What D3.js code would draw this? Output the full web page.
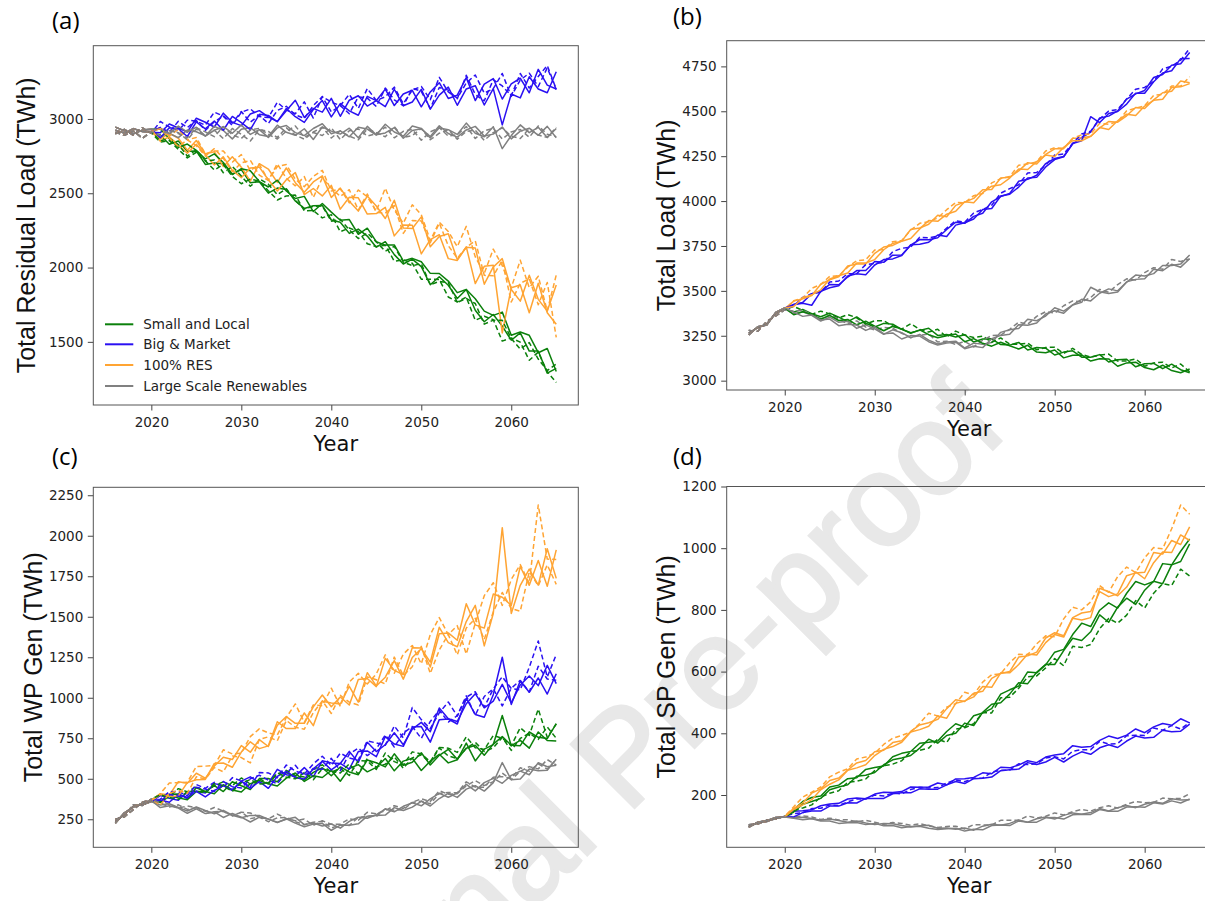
<!DOCTYPE html>
<html>
<head>
<meta charset="utf-8">
<script src="https://cdn.jsdelivr.net/npm/d3@7"></script>
<style>
  body { margin: 0; background: #fff; }
  svg { display: block; }
</style>
</head>
<body>
<svg id="chart" width="1205" height="901"></svg>
<script>
// simulation years
const years = [2016,2017,2018,2019,2020,2021,2022,2023,2024,2025,2026,2027,2028,2029,2030,
  2031,2032,2033,2034,2035,2036,2037,2038,2039,2040,2041,2042,2043,2044,2045,
  2046,2047,2048,2049,2050,2051,2052,2053,2054,2055,2056,2057,2058,2059,2060,
  2061,2062,2063,2064,2065];
const xTicks = [2020, 2030, 2040, 2050, 2060];

const scenarios = ['Small and Local', 'Big & Market', '100% RES', 'Large Scale Renewables'];

// (a) total residual load, TWh - one array per run (even = solid, odd = dashed)
const resSmall = [
  [2925,2905,2935,2915,2910, 2892,2830,2852,2782,2784, 2694,2704,2698,2629,2660, 2571,2578,2501,2535,2526, 2448,2398,2416,2418,2320, 2305,2230,2259,2212,2137, 2174,2087,2024,2057,2006, 1884,1938,1881,1792,1852, 1713,1635,1684,1606,1511, 1560,1438,1438,1289,1322],
  [2900,2930,2890,2940,2905, 2844,2854,2796,2738,2776, 2718,2656,2694,2613,2564, 2595,2582,2517,2455,2482, 2488,2382,2384,2334,2356, 2241,2266,2243,2160,2141, 2150,2043,2052,2029,1922, 1921,1920,1802,1768,1801, 1645,1672,1649,1505,1526, 1498,1376,1431,1299,1227],
  [2945,2920,2900,2925,2930, 2933,2867,2809,2831,2789, 2731,2765,2707,2626,2665, 2652,2579,2542,2588,2515, 2465,2479,2377,2431,2373, 2318,2323,2224,2265,2174, 2151,2152,2045,2062,2039, 1961,1960,1909,1831,1852, 1790,1707,1678,1700,1544, 1566,1544,1427,1455,1300],
  [2910,2890,2920,2870,2915, 2852,2870,2828,2750,2792, 2718,2724,2638,2681,2616, 2547,2598,2561,2491,2530, 2452,2394,2412,2414,2312, 2325,2254,2195,2232,2173, 2110,2143,2036,2013,2026, 1885,1906,1899,1765,1792, 1758,1619,1646,1645,1523, 1451,1495,1384,1307,1351]
];
const resBig = [
  [2925,2905,2935,2915,2910, 2908,2966,2939,2912,3005, 2978,2946,3039,2977,2955, 3033,3056,3014,2982,3055, 3126,3010,3071,3046,3139, 3018,3126,3156,3087,3123, 3201,3090,3168,3193,3082, 3182,3244,3138,3160,3278, 3124,3234,3272,3134,3236, 3274,3176,3334,3228,3202],
  [2900,2930,2890,2940,2905, 2983,2946,2919,2992,2985, 2958,3046,3019,2957,3045, 3068,3016,3009,3112,3060, 3035,3115,3006,3151,3113, 3090,3166,3071,3205,3124, 3149,3214,3103,3194,3219, 3130,3280,3182,3140,3242, 3296,3174,3204,3306,3152, 3262,3308,3218,3344,3198],
  [2945,2920,2900,2925,2930, 2873,2941,2934,2882,2980, 2933,2986,2924,3017,2975, 2928,3031,3024,2982,3070, 3015,2977,3064,3124,3014, 3103,3054,3025,3152,3123, 3083,3200,3089,3114,3199, 3066,3160,3214,3092,3202, 3224,3094,3204,2960,3168, 3142,3284,3202,3176,3318],
  [2910,2890,2920,2870,2915, 2943,2911,2984,2942,2990, 2923,2981,3019,2972,3050, 2978,3026,2969,3057,3085, 3028,3004,3090,3150,3047, 3090,3035,3149,3140,3084, 3208,3129,3089,3206,3186, 3070,3212,3194,3136,3294, 3164,3122,3264,3222,3156, 3306,3208,3286,3360,3200]
];
const resRes = [
  [2925,2905,2935,2915,2910, 2865,2905,2870,2790,2855, 2765,2780,2680,2745,2675, 2581,2699,2663,2573,2670, 2571,2507,2576,2617,2471, 2535,2447,2380,2481,2414, 2330,2453,2266,2263,2341, 2140,2209,2228,2054,2136, 2132,1888,2004,2060,1852, 1774,1948,1786,1708,1882],
  [2900,2930,2890,2940,2905, 2945,2885,2930,2860,2875, 2765,2785,2785,2710,2760, 2653,2694,2588,2680,2693, 2594,2544,2613,2654,2515, 2530,2435,2522,2476,2381, 2534,2387,2299,2422,2356, 2182,2305,2243,2141,2277, 2072,1960,2124,2012,1864, 2050,1864,1942,1708,1950],
  [2945,2920,2900,2925,2930, 2850,2880,2825,2770,2830, 2760,2690,2745,2655,2605, 2670,2676,2591,2515,2591, 2639,2491,2532,2482,2553, 2393,2473,2469,2360,2363, 2405,2213,2287,2284,2092, 2188,2221,2060,2048,2139, 1892,2008,2016,1560,1864, 1882,1696,1894,1696,1618],
  [2910,2890,2920,2870,2915, 2935,2870,2815,2860,2820, 2750,2800,2735,2645,2705, 2721,2622,2586,2699,2600, 2550,2612,2471,2603,2534, 2479,2524,2387,2495,2372, 2366,2417,2230,2317,2314, 2167,2299,2147,2063,2136, 2180,1948,1944,2048,1768, 1894,1924,1750,1900,1530]
];
const resLarge = [
  [2925,2905,2935,2915,2910, 2938,2902,2874,2926,2914, 2886,2950,2922,2866,2930, 2942,2894,2882,2958,2910, 2890,2934,2862,2946,2918, 2898,2938,2874,2950,2894, 2906,2942,2870,2922,2934, 2882,2954,2902,2878,2926, 2950,2886,2898,2946,2866, 2918,2938,2890,2950,2874],
  [2900,2930,2890,2940,2905, 2872,2920,2908,2860,2932, 2888,2924,2868,2936,2896, 2852,2928,2916,2876,2940, 2892,2864,2912,2944,2872, 2920,2884,2860,2932,2908, 2880,2948,2876,2888,2936, 2860,2904,2928,2864,2916, 2924,2856,2908,2940,2884, 2868,2936,2892,2876,2944],
  [2945,2920,2900,2925,2930, 2932,2900,2952,2912,2944, 2884,2924,2948,2904,2960, 2896,2928,2876,2940,2956, 2908,2888,2936,2968,2900, 2920,2880,2944,2932,2892, 2964,2912,2884,2952,2936, 2872,2940,2928,2896,2972, 2904,2880,2948,2800,2888, 2960,2908,2944,2876,2936],
  [2910,2890,2920,2870,2915, 2889,2929,2901,2873,2941, 2913,2881,2949,2893,2869, 2925,2937,2897,2865,2917, 2953,2877,2909,2889,2941, 2861,2921,2933,2885,2901, 2945,2873,2917,2929,2857, 2913,2941,2885,2893,2949, 2869,2921,2937,2865,2913, 2929,2877,2953,2897,2881]
];

// (b) total load, TWh
const loadSmall = [
  [3265,3295,3315,3375,3400, 3383,3396,3373,3356,3376, 3354,3329,3355,3320,3299, 3319,3314,3286,3267,3280, 3292,3252,3257,3243,3256, 3215,3232,3233,3201,3198, 3213,3171,3185,3181,3143, 3159,3166,3131,3130,3145, 3104,3117,3119,3077,3094, 3096,3067,3092,3061,3044],
  [3280,3275,3330,3360,3395, 3413,3391,3369,3387,3372, 3349,3368,3350,3315,3334, 3334,3303,3287,3317,3285, 3271,3286,3243,3276,3254, 3240,3248,3214,3238,3203, 3203,3209,3172,3185,3186, 3152,3180,3146,3131,3142, 3148,3109,3110,3121,3080, 3099,3103,3071,3093,3049],
  [3255,3300,3310,3380,3405, 3367,3384,3369,3342,3364, 3335,3341,3311,3331,3303, 3278,3303,3287,3264,3283, 3256,3239,3250,3260,3217, 3234,3208,3192,3214,3194, 3176,3197,3159,3155,3171, 3127,3142,3143,3109,3122, 3121,3080,3099,3103,3073, 3061,3086,3056,3044,3065]
];
const loadBig = [
  [3265,3295,3315,3375,3400, 3425,3436,3484,3496,3536, 3534,3577,3613,3613,3663, 3659,3699,3700,3754,3786, 3785,3796,3842,3882,3876, 3915,3932,3996,4025,4042, 4110,4121,4144,4209,4237, 4248,4319,4354,4384,4463, 4473,4502,4568,4597,4616, 4688,4705,4756,4765,4827],
  [3280,3275,3330,3360,3395, 3417,3464,3484,3492,3549, 3555,3596,3596,3646,3653, 3658,3718,3737,3744,3798, 3796,3804,3850,3890,3882, 3934,3953,3977,4044,4069, 4091,4157,4159,4200,4256, 4262,4322,4373,4389,4457, 4501,4510,4569,4623,4633, 4666,4736,4751,4784,4850],
  [3255,3300,3310,3380,3405, 3423,3431,3420,3497,3517, 3529,3583,3595,3590,3644, 3674,3678,3697,3757,3760, 3771,3811,3803,3866,3879, 3900,3953,3959,4028,4038, 4078,4129,4132,4190,4231, 4247,4320,4336,4470,4437, 4488,4499,4540,4601,4600, 4664,4713,4726,4793,4794]
];
const loadRes = [
  [3265,3295,3315,3375,3400, 3443,3456,3474,3537,3562, 3579,3638,3650,3650,3709, 3744,3753,3777,3842,3850, 3871,3921,3913,3976,3994, 4015,4063,4064,4128,4133, 4168,4214,4207,4260,4291, 4292,4350,4351,4361,4407, 4443,4439,4475,4521,4515, 4564,4603,4611,4668,4659],
  [3280,3275,3330,3360,3395, 3445,3461,3514,3536,3581, 3584,3632,3668,3673,3728, 3729,3774,3780,3839,3876, 3885,3906,3952,3992,3991, 4030,4042,4101,4125,4137, 4200,4206,4219,4279,4297, 4293,4349,4369,4374,4433, 4428,4442,4503,4517,4531, 4588,4595,4641,4640,4692],
  [3255,3300,3310,3380,3405, 3413,3461,3478,3506,3566, 3584,3599,3655,3655,3674, 3729,3764,3776,3792,3845, 3892,3887,3927,3943,3996, 3990,4047,4083,4091,4128, 4178,4176,4220,4256,4248, 4299,4336,4336,4360,4410, 4399,4447,4484,4477,4529, 4561,4567,4632,4636,4654]
];
const loadLarge = [
  [3265,3295,3315,3375,3400, 3372,3384,3364,3332,3354, 3325,3331,3291,3311,3288, 3258,3283,3267,3239,3258, 3226,3204,3215,3220,3182, 3209,3203,3212,3269,3284, 3291,3342,3334,3360,3406, 3387,3422,3453,3444,3487, 3511,3500,3549,3588,3583, 3596,3641,3641,3649,3700],
  [3280,3275,3330,3360,3395, 3386,3394,3366,3344,3364, 3342,3317,3333,3298,3282, 3297,3292,3264,3240,3253, 3260,3215,3220,3201,3219, 3188,3225,3251,3254,3286, 3326,3314,3358,3384,3376, 3417,3444,3439,3463,3508, 3492,3535,3567,3560,3602, 3629,3620,3675,3664,3677],
  [3255,3300,3310,3380,3405, 3382,3358,3366,3338,3343, 3306,3314,3310,3280,3300, 3261,3266,3232,3251,3248, 3217,3198,3209,3214,3178, 3192,3184,3233,3252,3259, 3312,3308,3321,3371,3389, 3375,3421,3436,3520,3495, 3485,3494,3550,3564,3568, 3620,3612,3648,3632,3679]
];

// (c) total wind power generation, TWh
const wpSmall = [
  [235,280,330,340,360, 359,405,406,380,444, 421,458,421,482,457, 434,501,502,482,540, 509,493,539,568,519, 573,542,525,616,599, 573,654,583,602,661, 585,645,682,620,688, 707,645,714,760,707, 704,790,756,748,840],
  [250,265,310,355,370, 404,390,439,419,453, 418,458,481,458,505, 467,501,472,530,552, 521,511,557,586,540, 565,520,612,609,558, 659,606,585,666,653, 606,693,689,663,759, 692,680,767,750,704, 815,767,930,756,838],
  [225,290,325,350,365, 353,393,382,371,422, 421,407,463,431,418, 470,489,469,455,504, 536,484,518,508,552, 485,563,587,543,570, 625,549,609,627,551, 609,651,598,617,720, 610,683,711,890,704, 737,689,789,736,733],
  [245,270,340,335,375, 401,384,373,422,423, 412,470,454,422,475, 494,468,469,536,510, 500,538,494,562,546, 536,592,530,625,572, 590,636,565,629,647, 599,690,641,624,688, 725,668,691,755,675, 749,782,743,820,750]
];
const wpBig = [
  [235,280,330,340,360, 396,379,368,417,423, 412,470,459,427,485, 512,474,472,558,525, 515,569,512,611,598, 594,669,601,725,668, 710,784,710,807,848, 791,937,871,854,963, 1025,938,979,1083,968, 1079,1134,1075,1200,1087],
  [250,265,310,355,370, 374,420,421,395,464, 441,478,446,507,487, 452,538,536,506,585, 547,529,592,639,582, 658,628,615,734,721, 707,826,752,940,865, 810,907,974,887,1003, 1037,943,1054,1130,1057, 1049,1188,1350,1128,1267],
  [225,290,325,350,365, 369,355,404,384,423, 388,428,456,433,485, 441,483,441,515,546, 508,498,561,608,555, 595,560,668,672,636, 760,714,700,819,822, 726,865,869,838,996, 897,880,1019,1250,959, 1105,1034,1122,1023,1148],
  [245,270,340,335,375, 363,403,392,381,447, 436,422,483,451,443, 500,522,492,470,537, 583,517,564,559,626, 550,652,689,643,685, 770,696,782,823,749, 854,923,850,889,1012, 892,1008,1056,950,1059, 1107,1036,1194,1116,1108]
];
const wpRes = [
  [235,280,330,340,360, 407,400,482,472,534, 504,579,633,619,705, 664,742,699,830,884, 842,842,944,1017,945, 1005,955,1113,1119,1069, 1243,1169,1143,1309,1307, 1190,1395,1400,1355,1580, 1450,1430,1640,1620,1570, 1810,1694,1847,1688,1913],
  [250,265,310,355,370, 409,474,476,478,576, 578,581,679,653,659, 760,808,783,770,878, 962,848,956,951,1059, 947,1097,1151,1085,1147, 1265,1151,1269,1323,1209, 1390,1495,1390,1445,1270, 1460,1630,1710,1570,1730, 1822,1706,2190,1856,1853],
  [225,290,325,350,365, 403,392,394,476,494, 496,595,597,571,665, 728,686,703,852,810, 810,906,828,979,967, 961,1071,973,1155,1073, 1127,1229,1115,1249,1303, 1220,1435,1340,1315,1470, 1570,1320,1520,2050,1520, 1694,1794,1695,1920,1737],
  [245,270,340,335,375, 337,410,428,410,512, 498,569,543,641,631, 598,742,759,734,860, 818,806,908,981,903, 1015,973,955,1129,1111, 1085,1251,1137,1191,1317, 1150,1295,1390,1265,1430, 1490,1360,1530,1650,1550, 1534,1778,1691,1820,1700]
];
const wpLarge = [
  [235,280,330,340,360, 338,346,323,301,326, 304,284,305,275,259, 274,274,251,232,250, 262,217,227,208,221, 195,237,263,256,278, 313,296,330,351,333, 376,410,386,412,466, 425,476,502,472,521, 547,525,599,574,583],
  [250,265,310,355,370, 368,341,319,332,322, 299,323,300,270,294, 289,263,252,282,255, 241,251,213,241,219, 220,253,244,293,283, 303,334,317,355,376, 360,426,404,408,456, 488,458,482,535,494, 546,575,561,618,585],
  [225,290,325,350,365, 322,334,319,287,314, 285,296,261,286,263, 233,263,252,229,253, 226,204,220,225,182, 214,213,222,269,274, 276,322,304,325,361, 332,378,410,385,436, 457,424,476,600,494, 498,560,549,553,621],
  [245,270,340,335,375, 350,326,339,311,321, 284,297,298,273,293, 254,264,235,259,261, 235,216,232,237,196, 215,212,261,270,267, 315,306,309,354,362, 346,409,416,413,481, 449,447,510,513,503, 568,547,592,559,621]
];

// (d) total solar power generation, TWh
const spSmall = [
  [98,110,114,125,130, 152,179,192,197,226, 232,253,256,283,289, 294,324,335,341,368, 371,375,406,431,420, 457,466,480,527,541, 553,599,596,622,663, 672,720,757,746,799, 823,806,854,892,881, 892,950,946,957,1014],
  [104,106,118,122,131, 149,158,168,193,206, 214,241,245,252,279, 295,300,311,341,345, 352,381,370,414,418, 431,467,466,515,517, 546,583,586,612,642, 619,682,678,688,739, 772,757,783,830,806, 854,885,879,932,910],
  [95,112,117,127,129, 145,170,179,189,217, 226,233,261,264,273, 298,314,320,328,352, 381,368,393,400,433, 425,468,494,499,527, 564,561,598,624,623, 668,708,701,729,784, 760,809,838,818,864, 893,885,946,990,1030]
];
const spBig = [
  [98,110,114,125,130, 147,149,152,165,171, 173,187,190,188,203, 209,208,211,226,225, 226,239,233,252,253, 257,272,269,290,288, 297,311,305,323,330, 334,360,355,357,377, 391,383,394,414,402, 421,432,426,447,434],
  [104,106,118,122,131, 140,142,156,157,168, 166,178,187,187,200, 197,206,204,218,225, 223,224,239,249,243, 254,255,274,280,281, 301,299,301,320,324, 317,342,347,347,374, 365,367,392,394,393, 417,410,425,414,435],
  [95,112,117,127,129, 129,143,148,148,164, 164,175,174,189,189, 189,204,207,207,220, 219,219,233,244,237, 253,254,258,279,282, 284,305,299,307,322, 307,326,340,332,353, 363,354,375,391,385, 387,410,405,407,430]
];
const spRes = [
  [98,110,114,125,130, 157,174,206,220,247, 255,281,304,312,340, 345,370,376,406,427, 434,445,480,509,503, 530,536,578,594,600, 647,651,663,709,726, 716,775,790,795,859, 843,852,911,920,922, 986,981,1025,1012,1069],
  [104,106,118,122,131, 162,193,209,226,259, 274,285,317,323,335, 364,384,393,404,432, 465,456,485,496,533, 525,566,590,593,629, 656,655,690,716,713, 771,809,800,826,879, 857,908,939,921,969, 1002,998,1063,1140,1110],
  [95,112,117,127,129, 153,168,185,217,235, 249,280,288,298,328, 348,357,371,404,412, 423,456,449,497,505, 518,552,549,596,596, 623,657,654,694,720, 712,773,767,775,870, 859,846,874,923,901, 953,988,986,1043,1025]
];
const spLarge = [
  [98,110,114,125,130, 126,128,124,118,122, 117,112,116,109,104, 108,107,101,96,100, 102,92,93,89,93, 86,99,105,102,108, 119,112,123,129,122, 134,142,138,143,156, 148,159,166,159,170, 177,173,188,184,185],
  [104,106,118,122,131, 129,132,129,121,125, 119,120,113,118,112, 105,111,108,102,107, 100,95,98,99,90, 104,103,103,118,118, 118,132,125,131,142, 135,146,153,148,159, 165,158,170,179,175, 176,190,188,189,204],
  [95,112,117,127,129, 125,120,123,116,116, 108,110,111,104,108, 100,101,94,98,99, 92,88,91,92,83, 89,87,101,103,101, 116,112,112,126,127, 122,136,138,137,153, 147,147,161,162,160, 175,171,181,174,187]
];

const scenarioColors = ['#0b800b', '#2a10f2', '#ffa433', '#808080'];

const panels = [
  {tag: '(a)', tagX: 52, tagY: 29, left: 93.3, right: 578.3, top: 45.7, bottom: 405,
   yDomain: [1075, 3493], yTicks: [1500, 2000, 2500, 3000], yLabel: 'Total Residual Load (TWh)', labelX: 35,
   series: [resSmall, resBig, resRes, resLarge], legend: true},
  {tag: '(b)', tagX: 673, tagY: 25, left: 726.7, right: 1211.7, top: 40.7, bottom: 390,
   yDomain: [2948, 4893], yTicks: [3000, 3250, 3500, 3750, 4000, 4250, 4500, 4750], yLabel: 'Total Load (TWh)', labelX: 675,
   series: [loadSmall, loadBig, loadRes, loadLarge]},
  {tag: '(c)', tagX: 52, tagY: 465, left: 93.3, right: 578.3, top: 487.3, bottom: 847.3,
   yDomain: [77, 2299], yTicks: [250, 500, 750, 1000, 1250, 1500, 1750, 2000, 2250], yLabel: 'Total WP Gen (TWh)', labelX: 41.5,
   series: [wpSmall, wpBig, wpRes, wpLarge]},
  {tag: '(d)', tagX: 673, tagY: 465, left: 726.7, right: 1211.7, top: 486.5, bottom: 847.3,
   yDomain: [30.5, 1200], yTicks: [200, 400, 600, 800, 1000, 1200], yLabel: 'Total SP Gen (TWh)', labelX: 675,
   series: [spSmall, spBig, spRes, spLarge]}
];

const svg = d3.select('#chart');

// journal watermark, behind everything
svg.append('text')
  .attr('transform', 'translate(300,1142) rotate(-45)')
  .attr('font-family', 'Liberation Sans, Arial, sans-serif')
  .attr('font-size', 130)
  .attr('fill', '#e8e8e8')
  .attr('stroke', '#e8e8e8')
  .attr('stroke-width', 3)
  .text('Journal Pre-proof');

panels.forEach(p => {
  const x = d3.scaleLinear().domain([2013.55, 2067.45]).range([p.left, p.right]);
  const y = d3.scaleLinear().domain(p.yDomain).range([p.bottom, p.top]);
  const line = d3.line()
    .x((d, i) => x(years[i]))
    .y(d => y(d));

  const g = svg.append('g');
  const nRuns = p.series[0].length;
  // one run at a time so the scenarios interleave like the original plot
  for (let r = 0; r < nRuns; r++) {
    p.series.forEach((runs, s) => {
      g.append('path')
        .attr('d', line(runs[r]))
        .attr('fill', 'none')
        .attr('stroke', scenarioColors[s])
        .attr('stroke-width', 1.5)
        .attr('stroke-linejoin', 'round')
        .attr('stroke-dasharray', r % 2 ? '5,3' : null);
    });
  }

  const gx = svg.append('g')
    .attr('transform', 'translate(0,' + p.bottom + ')')
    .call(d3.axisBottom(x).tickValues(xTicks).tickFormat(d3.format('d')).tickSize(5.5).tickPadding(6.5));
  const gy = svg.append('g')
    .attr('transform', 'translate(' + p.left + ',0)')
    .call(d3.axisLeft(y).tickValues(p.yTicks).tickFormat(d3.format('d')).tickSize(5.5).tickPadding(4.5));
  [gx, gy].forEach(ax => {
    ax.select('.domain').remove();
    ax.attr('font-family', 'DejaVu Sans, sans-serif').attr('font-size', 13.5);
    ax.selectAll('line').attr('stroke', '#444');
    ax.selectAll('text').attr('fill', '#222');
  });

  svg.append('rect')
    .attr('x', p.left).attr('y', p.top)
    .attr('width', p.right - p.left).attr('height', p.bottom - p.top)
    .attr('fill', 'none').attr('stroke', '#555').attr('stroke-width', 1);

  svg.append('text')
    .attr('x', (p.left + p.right) / 2)
    .attr('y', p.bottom + 46)
    .attr('text-anchor', 'middle')
    .attr('font-family', 'DejaVu Sans, sans-serif')
    .attr('font-size', 21)
    .attr('fill', '#111')
    .text('Year');

  svg.append('text')
    .attr('transform', 'translate(' + p.labelX + ',' + (p.top + p.bottom) / 2 + ') rotate(-90)')
    .attr('text-anchor', 'middle')
    .attr('font-family', 'Liberation Sans, Arial, sans-serif')
    .attr('font-size', 25)
    .attr('fill', '#111')
    .text(p.yLabel);

  svg.append('text')
    .attr('x', p.tagX).attr('y', p.tagY)
    .attr('font-family', 'Open Sans, sans-serif')
    .attr('font-size', 24)
    .attr('fill', '#000')
    .text(p.tag);

  if (p.legend) {
    const rowY = [324.3, 344.3, 365, 386];
    const leg = svg.append('g');
    scenarios.forEach((name, i) => {
      leg.append('line')
        .attr('x1', 105).attr('x2', 133.3)
        .attr('y1', rowY[i]).attr('y2', rowY[i])
        .attr('stroke', scenarioColors[i]).attr('stroke-width', 2);
      leg.append('text')
        .attr('x', 143.3).attr('y', rowY[i]).attr('dy', '0.35em')
        .attr('font-family', 'DejaVu Sans, sans-serif')
        .attr('font-size', 13.5)
        .attr('fill', '#222')
        .text(name);
    });
  }
});
</script>
</body>
</html>
